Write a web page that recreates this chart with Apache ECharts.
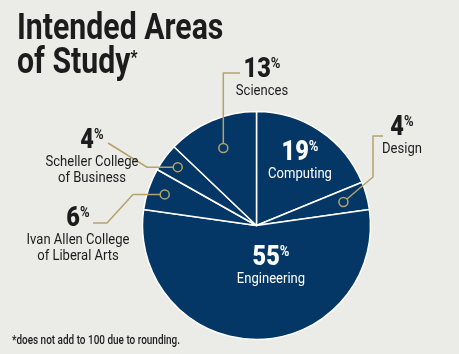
<!DOCTYPE html>
<html>
<head>
<meta charset="utf-8">
<style>
  html, body { margin: 0; padding: 0; background: #ebece8; }
  #chart { width: 459px; height: 354px; }
</style>
<script src="https://cdn.jsdelivr.net/npm/echarts@6/dist/echarts.min.js"></script>
</head>
<body>
<div id="chart"></div>
<script>
// data, clockwise from 12 o'clock
const categories = ['Computing', 'Design', 'Engineering', 'Ivan Allen College\nof Liberal Arts', 'Scheller College\nof Business', 'Sciences']
const shares = [19, 4, 55, 6, 4, 13]

const titleLines = ['Intended Areas', 'of Study']
const footnote = '*does not add to 100 due to rounding.'

// layout bits
const NAVY = '#053766'
const GOLD = '#b5a36b'
const INK = '#1c1c1c'
const center = [256.5, 225.5]
const radius = 114
const labelAt = [[300, 140], [402, 115], [271, 245], [78, 206], [92, 128], [262, 57]]
const dotFrac = [null, 0.79, null, 0.85, 0.86, 0.74]
// null in a point means "take it from the dot"
const leaderTail = [
  null,
  [[373, 177], [373, 136], [383, 136]],
  null,
  [[133, null], [107, 223], [93, 223]],
  [[147, null], [108, 143]],
  [[null, 73], [240, 73]],
]
const FONT = 'Roboto, "Noto Sans", sans-serif'

const chart = echarts.init(document.getElementById('chart'))

const total = shares.reduce((a, b) => a + b, 0)
let acc = 0
const mids = shares.map((v) => {
  const deg = 90 - ((acc + v / 2) / total) * 360
  acc += v
  return (deg * Math.PI) / 180
})

const graphics = []

// title
graphics.push({
  type: 'text', x: 17, y: 30, scaleX: 0.84, z: 100,
  style: { text: titleLines[0], font: 'bold 36px ' + FONT, fill: INK, textVerticalAlign: 'middle' },
})
graphics.push({
  type: 'text', x: 17, y: 49, scaleX: 0.84, z: 100,
  style: {
    text: '{t|' + titleLines[1] + '}{s|*}',
    textVerticalAlign: 'top',
    rich: {
      t: { fontSize: 36, fontWeight: 'bold', fontFamily: FONT, fill: INK, lineHeight: 30 },
      s: { fontSize: 18, fontWeight: 900, fontFamily: FONT, fill: INK, lineHeight: 18, verticalAlign: 'top' },
    },
  },
})

// footnote
graphics.push({
  type: 'text', x: 12, y: 341, scaleX: 0.83, z: 100,
  style: { text: footnote, font: '500 12px ' + FONT, fill: INK, textVerticalAlign: 'middle' },
})

shares.forEach((v, i) => {
  const inside = dotFrac[i] == null
  const color = inside ? '#ffffff' : INK
  graphics.push({
    type: 'text', x: labelAt[i][0], y: labelAt[i][1], scaleX: 0.87, z: 110,
    style: {
      text: '{n|' + v + '}{p|%}\n' + categories[i].split('\n').map((s) => '{t|' + s + '}').join('\n'),
      textAlign: 'center',
      textVerticalAlign: 'top',
      rich: {
        n: { fontSize: 27, fontWeight: 900, fontFamily: FONT, fill: color, lineHeight: 26 },
        p: { fontSize: 15, fontWeight: 'bold', fontFamily: FONT, fill: color, lineHeight: 15, verticalAlign: 'top' },
        t: { fontSize: 15, fontFamily: FONT, fill: color, lineHeight: 16 },
      },
    },
  })
  if (inside) return
  const r = radius * dotFrac[i]
  const dot = [center[0] + r * Math.cos(mids[i]), center[1] - r * Math.sin(mids[i])]
  const pts = [dot].concat(leaderTail[i].map((p) => [p[0] == null ? dot[0] : p[0], p[1] == null ? dot[1] : p[1]]))
  graphics.push({
    type: 'polyline', z: 105,
    shape: { points: pts },
    style: { stroke: GOLD, lineWidth: 1.5, fill: null },
  })
  graphics.push({
    type: 'circle', z: 106,
    shape: { cx: dot[0], cy: dot[1], r: 4.5 },
    style: { stroke: GOLD, lineWidth: 1.5, fill: NAVY },
  })
})

chart.setOption({
  backgroundColor: '#ebece8',
  animation: false,
  series: [
    {
      type: 'pie',
      center: center,
      radius: radius,
      startAngle: 90,
      clockwise: true,
      label: { show: false },
      labelLine: { show: false },
      itemStyle: { color: NAVY, borderColor: '#ffffff', borderWidth: 1.5 },
      data: categories.map((name, i) => ({ name: name, value: shares[i] })),
    },
  ],
  graphic: graphics,
})
</script>
</body>
</html>
